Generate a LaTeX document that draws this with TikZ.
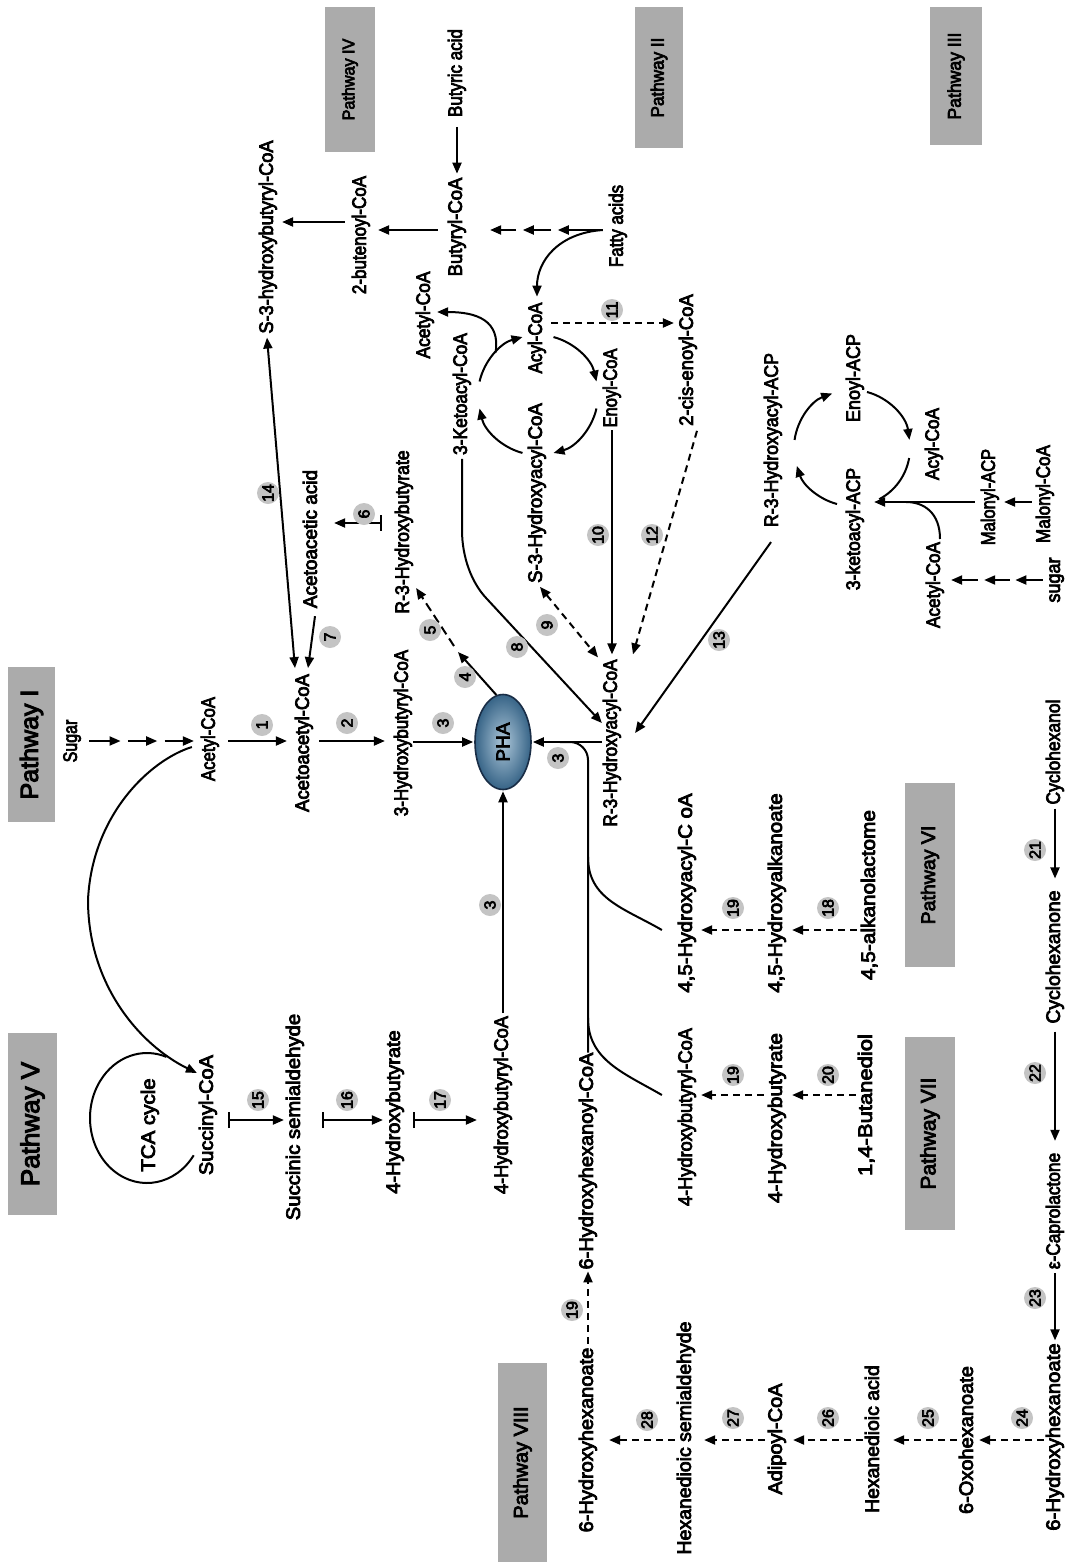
\documentclass[tikz,border=0pt]{standalone}
\usepackage{fontspec}
\usepackage{graphicx}
\setmainfont{Liberation Sans}
\newfontfamily\labfont{Liberation Sans}[FakeBold=4]
\usetikzlibrary{arrows.meta,calc,shapes.geometric}
\newcommand\fz[1]{\fontsize{#1pt}{#1pt}\selectfont}
\newcommand\hs[2]{\scalebox{#1}[1]{#2}}
\definecolor{boxgray}{RGB}{171,171,171}
\definecolor{numgray}{RGB}{196,196,196}
\definecolor{phain}{RGB}{172,198,216}
\definecolor{phaout}{RGB}{55,100,135}
\definecolor{phaedge}{RGB}{25,45,70}
\tikzset{
  lab/.style={rotate=90, inner sep=0pt, outer sep=0pt, text height=14pt, text depth=4.2pt, font=\labfont\fz{19.5}},
  pw/.style={rotate=90, fill=boxgray, inner sep=0pt},
  num/.style={circle, fill=numgray, rotate=90, inner sep=0pt, minimum size=22pt, font=\labfont\fz{16}},
  ln/.style={line width=2pt},
  arr/.style={ln, -{Triangle[length=11pt,width=9pt]}},
  darr/.style={ln, {Triangle[length=11pt,width=9pt]}-{Triangle[length=11pt,width=9pt]}},
  barr/.style={ln, {Bar[width=16pt]}-{Triangle[length=11pt,width=9pt]}},
  dsh/.style={dash pattern=on 7pt off 5pt},
  sh/.style 2 args={shorten <=#1pt, shorten >=#2pt},
}
\begin{document}
\begin{tikzpicture}[x=1pt,y=-1pt]
\useasboundingbox (0,0) rectangle (1071,1566);
\fill[white] (0,0) rectangle (1071,1566);

% rows used by the straight connectors
\coordinate (rowIV) at (0,230);
\coordinate (rowIVb) at (0,222);
\coordinate (row11) at (0,323);
\coordinate (rowIII) at (0,502);
\coordinate (rowSIII) at (0,580);
\coordinate (rowI) at (0,741);
\coordinate (rowVI) at (0,930);
\coordinate (rowVII) at (0,1095);
\coordinate (rowV) at (0,1120);
\coordinate (rowVIII) at (0,1440);

% pathway headers
\node[pw,minimum width=145pt,minimum height=50pt,font=\labfont\fz{17}] (pwIV) at (350,79.5) {\hs{.95}{Pathway IV}};
\node[pw,minimum width=141pt,minimum height=48pt,font=\labfont\fz{18}] (pwII) at (659,77.5) {\hs{.95}{Pathway II}};
\node[pw,minimum width=138pt,minimum height=52pt,font=\labfont\fz{18.5}] (pwIII) at (956,76) {\hs{.95}{Pathway III}};
\node[pw,minimum width=155pt,minimum height=47pt,font=\labfont\fz{25}] (pwI) at (31.5,744.5) {Pathway I};
\node[pw,minimum width=182pt,minimum height=49pt,font=\labfont\fz{26}] (pwV) at (32.5,1124) {Pathway V};
\node[pw,minimum width=184pt,minimum height=50pt,font=\labfont\fz{19.5}] (pwVI) at (930,875) {Pathway VI};
\node[pw,minimum width=193pt,minimum height=50pt,font=\labfont\fz{21}] (pwVII) at (930,1133.5) {Pathway VII};
\node[pw,minimum width=199pt,minimum height=49pt,font=\labfont\fz{20}] (pwVIII) at (522.5,1462.5) {Pathway VIII};

% Pathway IV
\node[lab] (s3hb) at (268,237) {\hs{.933}{S-3-hydroxybutyryl-CoA}};
\node[lab] (butenoyl) at (361,235) {\hs{.872}{2-butenoyl-CoA}};
\node[lab] (butyric) at (457,73) {\hs{.872}{Butyric acid}};
\node[lab] (butyryl) at (457,227) {\hs{.949}{Butyryl-CoA}};
% Pathway II
\node[lab] (fatty) at (618,226) {\hs{.872}{Fatty acids}};
\node[lab] (acylII) at (537,338) {\hs{.872}{Acyl-CoA}};
\node[lab] (acetylII) at (425,315) {\hs{.892}{Acetyl-CoA}};
\node[lab] (ketoacyl) at (462,394) {\hs{.892}{3-Ketoacyl-CoA}};
\node[lab] (s3ha) at (537,493) {\hs{.959}{S-3-Hydroxyacyl-CoA}};
\node[lab] (enoyl) at (612,388) {\hs{.846}{Enoyl-CoA}};
\node[lab] (cisenoyl) at (688,360) {\hs{.949}{2-cis-enoyl-CoA}};
\node[lab] (r3ha) at (612,743) {\hs{.887}{R-3-Hydroxyacyl-CoA}};
% Pathway III
\node[lab] (r3hacp) at (773,440) {\hs{.913}{R-3-Hydroxyacyl-ACP}};
\node[lab] (enoylacp) at (855,378) {\hs{.923}{Enoyl-ACP}};
\node[lab] (ketoacp) at (855,529) {\hs{.903}{3-ketoacyl-ACP}};
\node[lab] (acylIII) at (934,444) {\hs{.887}{Acyl-CoA}};
\node[lab] (malacp) at (990,497) {\hs{.846}{Malonyl-ACP}};
\node[lab] (malcoa) at (1045,494) {\hs{.877}{Malonyl-CoA}};
\node[lab] (acetylIII) at (935,585) {\hs{.882}{Acetyl-CoA}};
\node[lab] (sugarIII) at (1055,580) {\hs{.923}{sugar}};
% Pathway I
\node[lab] (sugarI) at (72,741) {\hs{.82}{Sugar}};
\node[lab] (acetylI) at (210,739) {\hs{.862}{Acetyl-CoA}};
\node[lab] (acetoacetyl) at (304,743) {\hs{.949}{Acetoacetyl-CoA}};
\node[lab] (hbcoa) at (403,733) {\hs{.872}{3-Hydroxybutyryl-CoA}};
\node[lab] (r3hb) at (404,532) {\hs{.908}{R-3-Hydroxybutyrate}};
\node[lab] (acetoacetic) at (312,539) {\hs{.974}{Acetoacetic acid}};
% Pathway V
\node[lab] (tca) at (150,1125) {\hs{1.05}{TCA cycle}};
\node[lab] (succinyl) at (208,1115) {\hs{1.026}{Succinyl-CoA}};
\node[lab] (succsemi) at (295,1117) {\hs{1.041}{Succinic semialdehyde}};
\node[lab] (hbV) at (395,1112) {\hs{1.026}{4-Hydroxybutyrate}};
\node[lab] (hbcoaV) at (503,1105) {\hs{.933}{4-Hydroxybutyryl-CoA}};
\node[lab] (hhcoa) at (588,1161) {\hs{1.026}{6-Hydroxyhexanoyl-CoA}};
% Pathway VI
\node[lab] (hacylcoa) at (687,893) {\hs{1.051}{4,5-Hydroxyacyl-C oA}};
\node[lab] (halk) at (777,893) {\hs{1.051}{4,5-Hydroxyalkanoate}};
\node[lab] (alklact) at (870,895) {\hs{1.067}{4,5-alkanolactome}};
% Pathway VII
\node[lab] (hbcoaVII) at (687,1117) {\hs{.933}{4-Hydroxybutyryl-CoA}};
\node[lab] (hbVII) at (777,1118) {\hs{1.067}{4-Hydroxybutyrate}};
\node[lab] (butanediol) at (867,1105) {\hs{1.128}{1,4-Butanediol}};
% cyclohexanol route and Pathway VIII
\node[lab] (cyclohexanol) at (1055,752) {\hs{.897}{Cyclohexanol}};
\node[lab] (cyclohexanone) at (1055,957) {\hs{.99}{Cyclohexanone}};
\node[lab] (caprolactone) at (1055,1211) {\hs{.887}{ε-Caprolactone}};
\node[lab] (hhexR) at (1055,1437) {\hs{1.041}{6-Hydroxyhexanoate}};
\node[lab] (oxohex) at (968,1440) {\hs{1.026}{6-Oxohexanoate}};
\node[lab] (hexacid) at (874,1439) {\hs{.995}{Hexanedioic acid}};
\node[lab] (adipoyl) at (777,1439) {\hs{1.026}{Adipoyl-CoA}};
\node[lab] (hexsemi) at (686,1438) {Hexanedioic semialdehyde};
\node[lab] (hhexL) at (588,1440) {\hs{1.026}{6-Hydroxyhexanoate}};

% PHA granule
\node[ellipse, rotate=90, draw=phaedge, line width=1.6pt, inner color=phain, outer color=phaout,
      minimum width=95pt, minimum height=56pt, inner sep=0pt, font=\labfont\fz{19}] (pha) at (503,742) {PHA};

% ---------- connectors ----------
% Pathway IV
\draw[arr,sh={10}{4}] (butyric.west) -- (butyryl.east);
\draw[arr,sh={10}{8}] (butyryl.north |- rowIV) -- (butenoyl.south |- rowIV);
\draw[arr,sh={7}{5}] (butenoyl.north |- rowIVb) -- (s3hb.south |- rowIVb);
\coordinate (faA) at ($(fatty.north |- rowIV)+(-6,0)$);
\coordinate (faB) at ($(butyryl.south |- rowIV)+(24,0)$);
\foreach \a/\b in {0/.4,.46/.71,.77/1}
  \draw[arr] ($(faA)!\a!(faB)$) -- ($(faA)!\b!(faB)$);
\draw[arr] (faA) .. controls +(-45,3) and +(0,-35) .. ($(acylII.east)+(0,-6)$);

% Pathway II: beta-oxidation cycle
\coordinate (cII) at (538,395);
\draw[arr] ($(cII)+(-75:60)$) arc[start angle=-75,end angle=-13,radius=60];
\draw[arr] ($(cII)+(13:60)$) arc[start angle=13,end angle=75,radius=60];
\draw[arr] ($(cII)+(105:60)$) arc[start angle=105,end angle=167,radius=60];
\draw[arr] ($(cII)+(193:60)$) arc[start angle=193,end angle=255,radius=60];
\draw[arr] ($(cII)+(225:60)$) .. controls +(5,-32) and +(40,0) .. ($(acetylII.south)+(3,-3)$);
\draw[arr,dsh,sh={5}{5}] (acylII.south |- row11) -- (cisenoyl.north |- row11);
\draw[arr,sh={3}{5}] (enoyl.west) -- (r3ha.east);
\draw[arr,dsh] ($(cisenoyl.west)+(9,5)$) -- ($(r3ha.east)+(21,-5)$);
\draw[darr,dsh] ($(s3ha.west)+(3,4)$) -- ($(r3ha.east)+(-14,-2)$);
\draw[arr] ($(ketoacyl.west)+(0,4)$) -- ($(ketoacyl.west)+(0,75)$)
  .. controls +(0,28) and +(-14,-15) .. ($(ketoacyl.west)+(24,143)$)
  -- ($(r3ha.north)+(-1,-20)$);

% Pathway III: fatty acid synthesis cycle
\coordinate (cIII) at (852,448);
\draw[arr] ($(cIII)+(188:58)$) arc[start angle=188,end angle=250,radius=58];
\draw[arr] ($(cIII)+(285:58)$) arc[start angle=285,end angle=352,radius=58];
\draw[ln] ($(cIII)+(10:58)$) arc[start angle=10,end angle=62,radius=58];
\draw[arr] ($(cIII)+(105:58)$) arc[start angle=105,end angle=162,radius=58];
\draw[arr,sh={6}{10}] (malacp.north |- rowIII) -- (ketoacp.south |- rowIII);
\draw[arr,sh={4}{5}] (malcoa.north |- rowIII) -- (malacp.south |- rowIII);
\draw[ln] ($(acetylIII.east)+(5,-3)$) .. controls +(0,-26) and +(18,0) .. ($(ketoacp.south |- rowIII)+(42,0)$);
\coordinate (suIIIA) at ($(sugarIII.north |- rowSIII)+(-3,0)$);
\coordinate (suIIIB) at ($(acetylIII.south |- rowSIII)+(7,0)$);
\foreach \a/\b in {0/.3,.36/.64,.71/1}
  \draw[arr] ($(suIIIA)!\a!(suIIIB)$) -- ($(suIIIA)!\b!(suIIIB)$);
\draw[arr] ($(r3hacp.west)+(-2,15)$) -- ($(r3ha.south)+(14,-10)$);

% into PHA
\draw[arr,sh={1}{1}] (hbcoa.south |- pha) -- (pha.north);
\draw[arr,sh={1}{1}] (r3ha.north |- pha) -- (pha.south);
\draw[arr,sh={3}{1}] (hbcoaV.east) -- (pha.west);
\coordinate (jA) at (588,857);
\coordinate (jB) at (588,1018);
\draw[ln, rounded corners=18pt] (hhcoa.east) -- (hhcoa.east |- pha) -- ($(pha.south)+(28,0)$);
\draw[ln] ($(hacylcoa.north |- rowVI)+(-16,0)$) .. controls +(-38,-22) and +(0,42) .. (jA);
\draw[ln] ($(hbcoaVII.north |- rowVII)+(-16,0)$) .. controls +(-38,-22) and +(0,42) .. (jB);
\coordinate (m45) at (458,652);
\draw[arr] (pha.8) -- (m45);
\draw[arr,dash pattern=on 9pt off 5pt] ($(m45)+(-4,-6)$) -- ($(r3hb.south)+(3,56)$);

% Pathway I
\coordinate (suIA) at ($(sugarI.south |- rowI)+(8,0)$);
\coordinate (suIB) at ($(acetylI.north |- rowI)+(-7,0)$);
\foreach \a/\b in {0/.3,.37/.65,.72/1}
  \draw[arr] ($(suIA)!\a!(suIB)$) -- ($(suIA)!\b!(suIB)$);
\draw[arr,sh={9}{8}] (acetylI.south |- rowI) -- (acetoacetyl.north |- rowI);
\draw[arr,sh={6}{9}] (acetoacetyl.south |- rowI) -- (hbcoa.north |- rowI);
\draw[barr] ($(r3hb.north)+(-13,-9)$) -- ($(acetoacetic.south)+(13,-16)$);
\draw[arr] ($(acetoacetic.west)+(3,8)$) -- ($(acetoacetyl.east)+(4,-6)$);
\draw[darr] ($(s3hb.west)+(-1,4)$) -- ($(acetoacetyl.east)+(-9,-6)$);

% Pathway V
\draw[arr] ($(acetylI.north)+(-9,8)$) .. controls (150,760) and (92,815) .. (88,900)
  .. controls (88,985) and (140,1045) .. ($(succinyl.north)+(-2,-42)$);
\coordinate (ctca) at (147,1118);
\draw[ln] ($(ctca)+(35:57 and 65)$) arc[start angle=35,end angle=290,x radius=57,y radius=65];
\draw[barr,sh={11}{2}] (succinyl.south |- rowV) -- (succsemi.north |- rowV);
\draw[barr,sh={18}{3}] (succsemi.south |- rowV) -- (hbV.north |- rowV);
\draw[barr,sh={9}{17}] (hbV.south |- rowV) -- (hbcoaV.north |- rowV);

% Pathways VI and VII
\draw[arr,dsh,sh={3}{5}] (halk.north |- rowVI) -- (hacylcoa.south |- rowVI);
\draw[arr,dsh,sh={4}{6}] (alklact.north |- rowVI) -- (halk.south |- rowVI);
\draw[arr,dsh,sh={4}{5}] (hbVII.north |- rowVII) -- (hbcoaVII.south |- rowVII);
\draw[arr,dsh,sh={2}{6}] (butanediol.north |- rowVII) -- (hbVII.south |- rowVII);

% cyclohexanol route
\draw[arr,sh={4}{12}] (cyclohexanol.west) -- (cyclohexanone.east);
\draw[arr,sh={8}{12}] (cyclohexanone.west) -- (caprolactone.east);
\draw[arr,sh={4}{3}] (caprolactone.west) -- (hhexR.east);

% Pathway VIII
\draw[arr,dsh,sh={2}{2}] (hhexR.north |- rowVIII) -- (oxohex.south |- rowVIII);
\draw[arr,dsh,sh={2}{10}] (oxohex.north |- rowVIII) -- (hexacid.south |- rowVIII);
\draw[arr,dsh,sh={2}{7}] (hexacid.north |- rowVIII) -- (adipoyl.south |- rowVIII);
\draw[arr,dsh,sh={3}{9}] (adipoyl.north |- rowVIII) -- (hexsemi.south |- rowVIII);
\draw[arr,dsh,sh={2}{12}] (hexsemi.north |- rowVIII) -- (hhexL.south |- rowVIII);
\draw[arr,dsh,sh={4}{2}] (hhexL.east) -- (hhcoa.west);

% reaction numbers
\node[num] (n1) at (262,725) {1};
\node[num] (n2) at (347,723) {2};
\node[num] (n3a) at (443,723) {3};
\node[num] (n4) at (465,677) {4};
\node[num] (n5) at (430,630) {5};
\node[num] (n6) at (364,514) {6};
\node[num] (n7) at (330,637) {7};
\node[num] (n8) at (517,647) {8};
\node[num] (n9) at (547,625) {9};
\node[num] (n10) at (598,535) {10};
\node[num] (n11) at (612,310) {11};
\node[num] (n12) at (652,535) {12};
\node[num] (n13) at (719,640) {13};
\node[num] (n14) at (268,493) {14};
\node[num] (n3b) at (558,758) {3};
\node[num] (n3c) at (490,905) {3};
\node[num] (n15) at (258,1100) {15};
\node[num] (n16) at (347,1100) {16};
\node[num] (n17) at (440,1100) {17};
\node[num] (n19a) at (733,908) {19};
\node[num] (n18) at (828,908) {18};
\node[num] (n19b) at (733,1075) {19};
\node[num] (n20) at (828,1075) {20};
\node[num] (n21) at (1035,850) {21};
\node[num] (n22) at (1035,1073) {22};
\node[num] (n23) at (1035,1298) {23};
\node[num] (n24) at (1022,1418) {24};
\node[num] (n25) at (928,1418) {25};
\node[num] (n26) at (828,1418) {26};
\node[num] (n27) at (733,1418) {27};
\node[num] (n28) at (647,1420) {28};
\node[num] (n19c) at (572,1310) {19};
\end{tikzpicture}
\end{document}
